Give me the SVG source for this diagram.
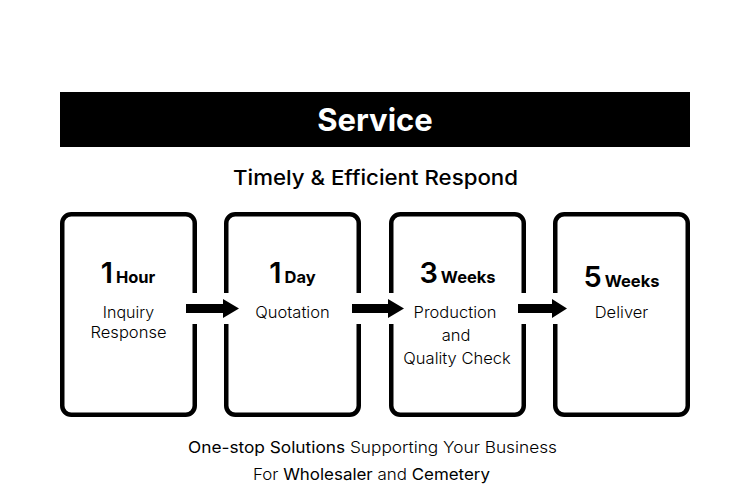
<svg xmlns="http://www.w3.org/2000/svg" width="750" height="500" viewBox="0 0 750 500">
<style>
  text { font-family: "Inter", "Roboto", "Liberation Sans", sans-serif; fill: #000; text-anchor: middle; }
  .box { fill: #fff; stroke: #000; stroke-width: 4.5; }
  .num { font-size: 29px; font-weight: 600; }
  .unit { font-size: 16.5px; font-weight: 700; }
  .desc { font-size: 16.5px; font-weight: 300; }
  .foot { font-size: 16px; font-weight: 300; }
  .foot tspan.em { font-weight: 400; }
  .gap { fill: #fff; }
  .arrow { fill: #000; }
</style>
<rect width="750" height="500" fill="#fff"/>
<g id="header">
  <rect x="60" y="92" width="630" height="55" fill="#000"/>
  <text x="375" y="131" style="font-size:31px;font-weight:700;fill:#fff">Service</text>
  <text x="375.5" y="185" textLength="285" lengthAdjust="spacingAndGlyphs" style="font-size:20.5px;font-weight:500">Timely &amp; Efficient Respond</text>
</g>
<g id="node1">
  <rect class="box" x="62.25" y="214.25" width="132.5" height="200.5" rx="9"/>
  <text x="128" y="283"><tspan class="num">1</tspan><tspan class="unit" dx="3">Hour</tspan></text>
  <text class="desc" x="128.5" y="318" style="font-size:16px">Inquiry</text>
  <text class="desc" x="128.5" y="337.5" style="font-size:16px" textLength="76" lengthAdjust="spacingAndGlyphs">Response</text>
</g>
<g id="node2">
  <rect class="box" x="226.25" y="214.25" width="132.5" height="200.5" rx="9"/>
  <text x="292.5" y="283"><tspan class="num">1</tspan><tspan class="unit" dx="3">Day</tspan></text>
  <text class="desc" x="292.5" y="318">Quotation</text>
</g>
<g id="node3">
  <rect class="box" x="391.25" y="214.25" width="132.5" height="200.5" rx="9"/>
  <text x="457.5" y="283"><tspan class="num">3</tspan><tspan class="unit" dx="3">Weeks</tspan></text>
  <text class="desc" x="455" y="318">Production</text>
  <text class="desc" x="456" y="341">and</text>
  <text class="desc" x="457" y="364">Quality Check</text>
</g>
<g id="node4">
  <rect class="box" x="555.25" y="214.25" width="132.5" height="200.5" rx="9"/>
  <text x="621.5" y="287"><tspan class="num">5</tspan><tspan class="unit" dx="3">Weeks</tspan></text>
  <text class="desc" x="621.5" y="318">Deliver</text>
</g>
<g id="connectors">
  <rect class="gap" x="190" y="293" width="12" height="31"/>
  <rect class="gap" x="222" y="293" width="12" height="31"/>
  <polygon class="arrow" points="186,304 223,304 223,299 239,308.5 223,318 223,313 186,313"/>
  <rect class="gap" x="354" y="293" width="12" height="31"/>
  <rect class="gap" x="386" y="293" width="12" height="31"/>
  <polygon class="arrow" points="352,304 388,304 388,299 404,308.5 388,318 388,313 352,313"/>
  <rect class="gap" x="519" y="293" width="12" height="31"/>
  <rect class="gap" x="550" y="293" width="12" height="31"/>
  <polygon class="arrow" points="518,304 552,304 552,299 567,308.5 552,318 552,313 518,313"/>
</g>
<g id="footer">
  <text class="foot" x="372.5" y="453" textLength="369" lengthAdjust="spacingAndGlyphs"><tspan class="em">One-stop Solutions</tspan> Supporting Your Business</text>
  <text class="foot" x="371.5" y="480" textLength="237" lengthAdjust="spacingAndGlyphs">For <tspan class="em">Wholesaler</tspan> and <tspan class="em">Cemetery</tspan></text>
</g>
</svg>
